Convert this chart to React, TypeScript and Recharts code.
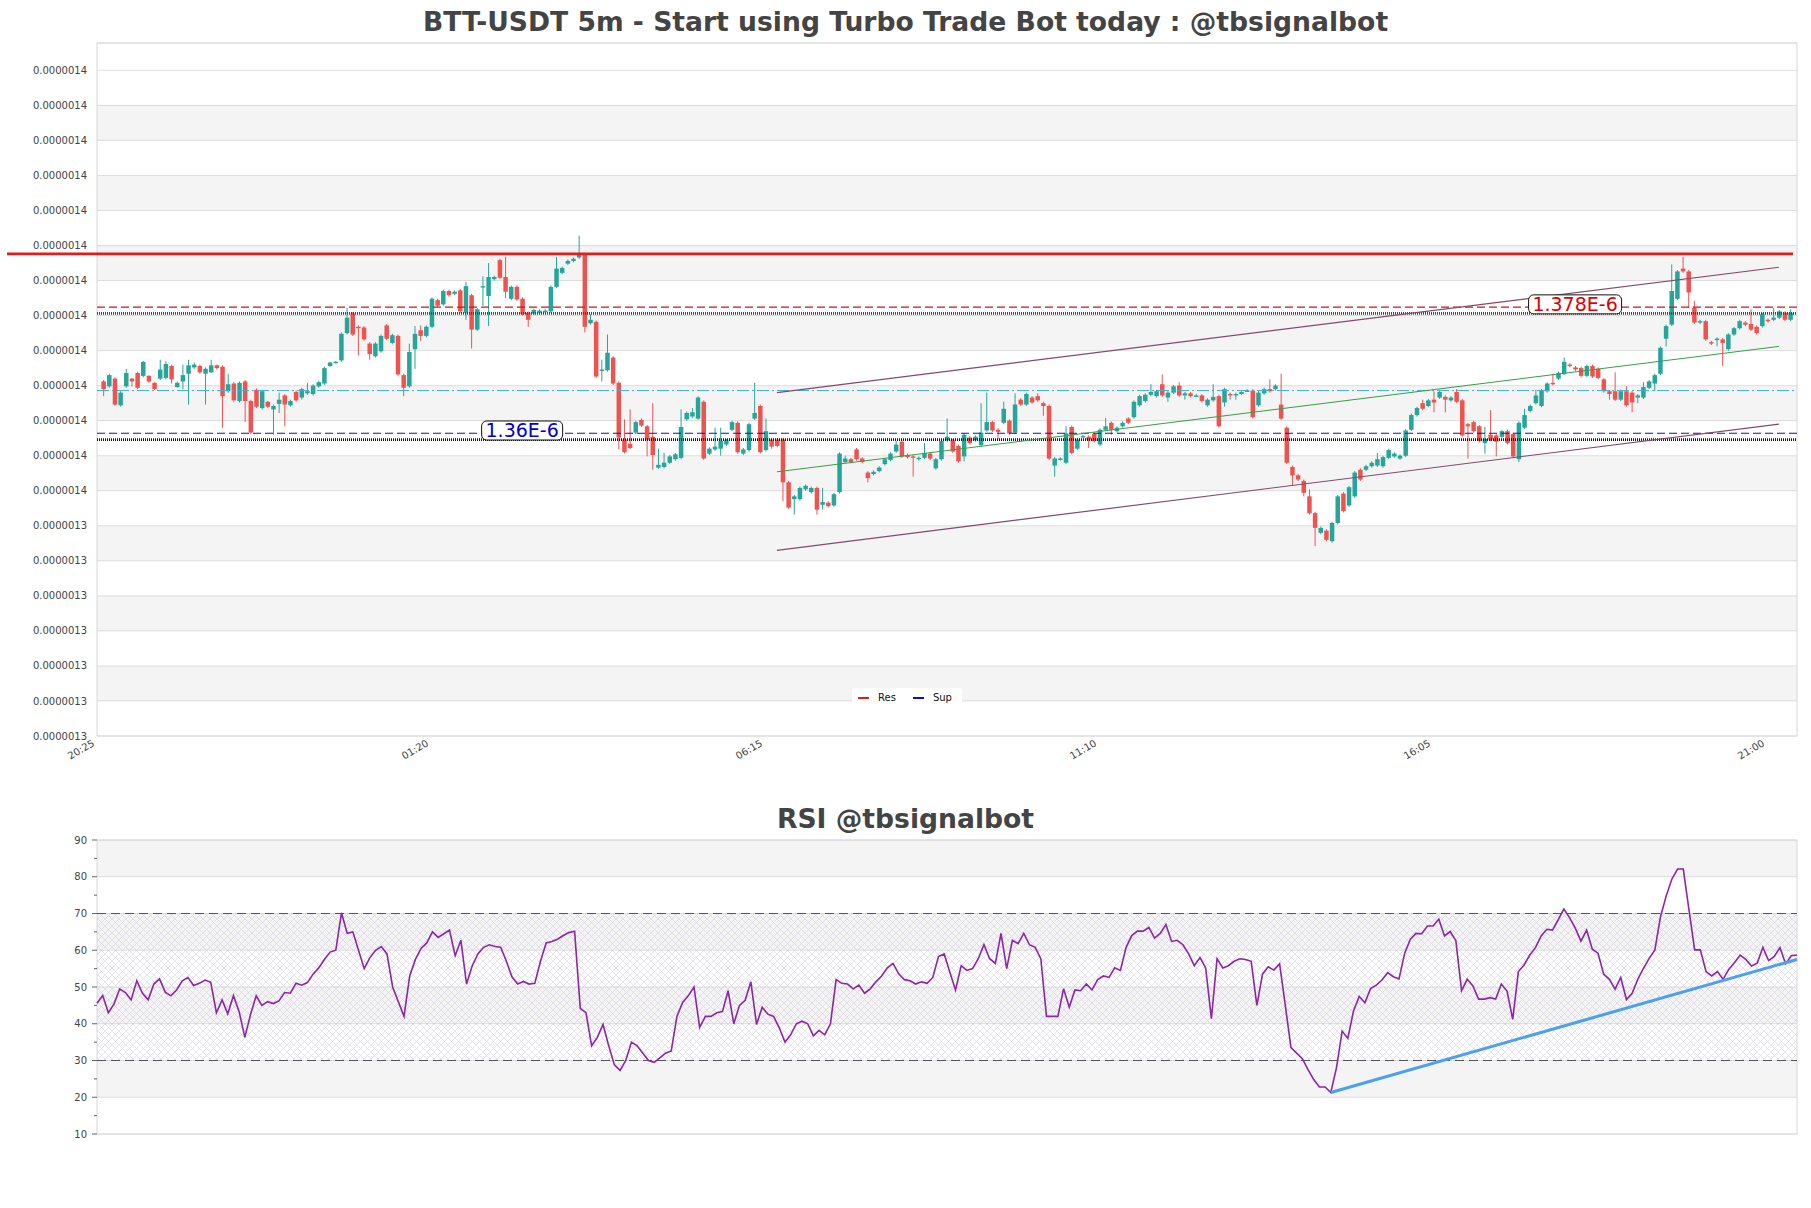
import React from 'react';
import {
  ComposedChart, LineChart, Bar, Line, XAxis, YAxis, CartesianGrid,
  ReferenceLine, ReferenceArea, ReferenceDot,
} from 'recharts';

// prices are kept in units of 1e-10 USDT (13780 -> 1.378E-6)
const opens = [
  13683, 13676, 13687, 13649, 13676, 13687, 13695, 13691, 13691, 13681, 13687, 13688, 13705, 13675, 13683, 13694, 13703, 13705, 13694, 13696,
  13706, 13704, 13669, 13680, 13655, 13683, 13655, 13671, 13645, 13654, 13643, 13651, 13663, 13649, 13668, 13660, 13666, 13665, 13676, 13680,
  13705, 13710, 13713, 13752, 13780, 13761, 13760, 13737, 13719, 13726, 13763, 13738, 13748, 13692, 13676, 13729, 13756, 13748, 13761, 13799,
  13793, 13812, 13808, 13813, 13781, 13806, 13757, 13817, 13805, 13829, 13856, 13832, 13801, 13818, 13801, 13781, 13780, 13781, 13783, 13783,
  13818, 13838, 13851, 13855, 13860, 13864, 13766, 13768, 13698, 13699, 13717, 13681, 13600, 13594, 13610, 13628, 13619, 13604, 13560, 13561,
  13567, 13572, 13574, 13629, 13633, 13630, 13654, 13580, 13586, 13587, 13593, 13614, 13624, 13580, 13585, 13630, 13648, 13585, 13600, 13600,
  13600, 13539, 13515, 13515, 13529, 13525, 13531, 13507, 13510, 13506, 13525, 13568, 13572, 13586, 13573, 13553, 13551, 13555, 13565, 13571,
  13583, 13597, 13578, 13576, 13572, 13574, 13580, 13559, 13572, 13599, 13599, 13591, 13576, 13603, 13599, 13592, 13613, 13625, 13614, 13624,
  13627, 13610, 13657, 13650, 13660, 13662, 13652, 13648, 13563, 13572, 13567, 13618, 13587, 13604, 13604, 13608, 13593, 13614, 13624, 13612,
  13619, 13630, 13632, 13649, 13655, 13664, 13662, 13679, 13660, 13667, 13677, 13663, 13666, 13662, 13663, 13649, 13656, 13662, 13653, 13665,
  13663, 13665, 13669, 13670, 13649, 13666, 13672, 13672, 13650, 13617, 13561, 13549, 13541, 13519, 13495, 13467, 13470, 13455, 13481, 13523,
  13506, 13519, 13557, 13557, 13562, 13563, 13562, 13574, 13576, 13573, 13577, 13614, 13635, 13652, 13648, 13657, 13660, 13661, 13656, 13668,
  13656, 13622, 13625, 13619, 13595, 13607, 13606, 13604, 13612, 13608, 13572, 13617, 13641, 13652, 13648, 13669, 13681, 13687, 13694, 13707,
  13703, 13702, 13691, 13705, 13701, 13686, 13669, 13669, 13657, 13669, 13667, 13660, 13660, 13674, 13680, 13694, 13744, 13764, 13801, 13844,
  13840, 13788, 13767, 13769, 13739, 13743, 13743, 13729, 13750, 13759, 13767, 13765, 13761, 13762, 13771, 13771, 13774, 13781, 13771,
];
const closes = [
  13672, 13692, 13650, 13667, 13695, 13683, 13674, 13711, 13683, 13672, 13700, 13708, 13686, 13681, 13692, 13706, 13707, 13696, 13701, 13706,
  13702, 13662, 13679, 13656, 13681, 13655, 13610, 13647, 13669, 13647, 13648, 13657, 13650, 13655, 13656, 13672, 13669, 13677, 13682, 13702,
  13710, 13711, 13751, 13774, 13750, 13759, 13743, 13722, 13737, 13748, 13744, 13749, 13693, 13674, 13725, 13751, 13748, 13761, 13801, 13791,
  13812, 13806, 13811, 13783, 13819, 13757, 13786, 13819, 13832, 13832, 13831, 13811, 13818, 13800, 13779, 13771, 13785, 13784, 13784, 13818,
  13844, 13845, 13855, 13858, 13864, 13761, 13771, 13690, 13700, 13724, 13680, 13603, 13582, 13588, 13625, 13620, 13600, 13578, 13564, 13567,
  13576, 13579, 13618, 13638, 13639, 13660, 13573, 13587, 13590, 13598, 13599, 13625, 13582, 13586, 13622, 13638, 13582, 13612, 13590, 13591,
  13539, 13503, 13519, 13531, 13534, 13531, 13500, 13511, 13505, 13522, 13580, 13573, 13568, 13572, 13568, 13545, 13554, 13560, 13572, 13580,
  13593, 13576, 13575, 13574, 13574, 13581, 13573, 13572, 13598, 13604, 13583, 13569, 13607, 13595, 13604, 13610, 13625, 13613, 13611, 13644,
  13609, 13650, 13650, 13665, 13653, 13656, 13648, 13573, 13573, 13573, 13609, 13581, 13600, 13605, 13600, 13598, 13614, 13619, 13614, 13617,
  13624, 13624, 13654, 13662, 13664, 13668, 13669, 13663, 13667, 13676, 13663, 13666, 13662, 13663, 13655, 13657, 13661, 13619, 13672, 13663,
  13665, 13668, 13670, 13632, 13667, 13672, 13669, 13677, 13630, 13567, 13549, 13543, 13524, 13495, 13474, 13474, 13457, 13481, 13519, 13498,
  13532, 13553, 13543, 13562, 13567, 13572, 13575, 13585, 13580, 13577, 13613, 13635, 13645, 13644, 13656, 13653, 13668, 13657, 13660, 13654,
  13606, 13619, 13612, 13598, 13601, 13600, 13597, 13612, 13595, 13576, 13624, 13635, 13648, 13663, 13670, 13680, 13679, 13695, 13711, 13705,
  13700, 13691, 13705, 13690, 13688, 13669, 13665, 13657, 13669, 13649, 13653, 13663, 13675, 13683, 13692, 13731, 13762, 13812, 13840, 13840,
  13810, 13767, 13769, 13743, 13737, 13744, 13738, 13750, 13759, 13769, 13764, 13757, 13752, 13779, 13769, 13774, 13783, 13771, 13781,
];
const highs = [
  13685, 13694, 13689, 13669, 13701, 13688, 13697, 13712, 13692, 13682, 13714, 13712, 13707, 13683, 13707, 13714, 13710, 13707, 13703, 13714,
  13707, 13706, 13694, 13682, 13683, 13685, 13657, 13673, 13671, 13655, 13650, 13667, 13665, 13657, 13670, 13674, 13681, 13679, 13684, 13704,
  13711, 13712, 13753, 13788, 13782, 13763, 13762, 13739, 13739, 13750, 13765, 13751, 13750, 13694, 13737, 13762, 13763, 13763, 13803, 13801,
  13814, 13814, 13813, 13815, 13825, 13808, 13788, 13833, 13852, 13834, 13858, 13861, 13820, 13820, 13803, 13783, 13787, 13786, 13786, 13820,
  13861, 13847, 13857, 13860, 13891, 13866, 13779, 13770, 13714, 13750, 13719, 13683, 13629, 13643, 13627, 13630, 13621, 13652, 13587, 13581,
  13578, 13581, 13643, 13640, 13645, 13662, 13656, 13589, 13617, 13617, 13601, 13627, 13626, 13588, 13624, 13681, 13650, 13630, 13602, 13602,
  13602, 13541, 13521, 13533, 13536, 13533, 13533, 13531, 13512, 13524, 13582, 13577, 13574, 13588, 13575, 13555, 13556, 13562, 13574, 13582,
  13598, 13599, 13580, 13578, 13576, 13595, 13582, 13574, 13600, 13630, 13601, 13593, 13609, 13605, 13606, 13652, 13667, 13627, 13616, 13654,
  13629, 13666, 13659, 13667, 13662, 13666, 13654, 13650, 13575, 13575, 13619, 13620, 13602, 13607, 13606, 13610, 13616, 13631, 13626, 13619,
  13626, 13632, 13656, 13664, 13666, 13679, 13671, 13693, 13669, 13678, 13682, 13668, 13668, 13665, 13665, 13659, 13679, 13664, 13674, 13667,
  13667, 13669, 13672, 13672, 13669, 13674, 13686, 13679, 13694, 13619, 13563, 13551, 13543, 13529, 13497, 13476, 13472, 13483, 13521, 13525,
  13534, 13555, 13559, 13564, 13569, 13581, 13577, 13587, 13582, 13579, 13615, 13637, 13647, 13657, 13658, 13669, 13670, 13663, 13662, 13672,
  13658, 13624, 13627, 13621, 13618, 13642, 13608, 13614, 13614, 13610, 13626, 13644, 13650, 13671, 13672, 13682, 13694, 13697, 13717, 13709,
  13705, 13704, 13707, 13707, 13703, 13688, 13671, 13696, 13671, 13676, 13669, 13665, 13682, 13685, 13694, 13733, 13764, 13850, 13842, 13861,
  13842, 13798, 13771, 13771, 13741, 13746, 13745, 13752, 13761, 13771, 13769, 13786, 13763, 13781, 13773, 13788, 13785, 13783, 13786,
];
const lows = [
  13662, 13674, 13648, 13647, 13674, 13676, 13672, 13689, 13681, 13671, 13685, 13686, 13680, 13674, 13672, 13650, 13701, 13694, 13650, 13695,
  13700, 13617, 13667, 13654, 13653, 13625, 13608, 13645, 13643, 13645, 13607, 13638, 13619, 13647, 13654, 13657, 13664, 13663, 13674, 13678,
  13704, 13709, 13711, 13750, 13748, 13720, 13741, 13714, 13717, 13724, 13742, 13736, 13691, 13662, 13674, 13701, 13741, 13746, 13759, 13789,
  13791, 13804, 13806, 13781, 13771, 13730, 13755, 13791, 13762, 13827, 13829, 13802, 13799, 13798, 13777, 13761, 13778, 13779, 13781, 13781,
  13816, 13836, 13849, 13853, 13858, 13753, 13764, 13688, 13683, 13697, 13678, 13586, 13580, 13586, 13608, 13618, 13576, 13557, 13558, 13559,
  13565, 13570, 13572, 13627, 13631, 13628, 13571, 13578, 13584, 13577, 13591, 13612, 13580, 13578, 13583, 13628, 13580, 13583, 13587, 13589,
  13512, 13501, 13493, 13513, 13527, 13523, 13493, 13500, 13503, 13504, 13523, 13566, 13566, 13570, 13566, 13539, 13549, 13553, 13563, 13569,
  13581, 13574, 13573, 13547, 13570, 13572, 13571, 13557, 13570, 13597, 13581, 13567, 13569, 13593, 13597, 13590, 13611, 13611, 13601, 13622,
  13607, 13608, 13648, 13648, 13651, 13654, 13634, 13571, 13547, 13570, 13565, 13579, 13585, 13603, 13588, 13596, 13591, 13612, 13607, 13610,
  13617, 13622, 13630, 13647, 13653, 13662, 13660, 13661, 13654, 13665, 13661, 13657, 13660, 13661, 13653, 13647, 13654, 13617, 13647, 13657,
  13657, 13664, 13668, 13630, 13647, 13664, 13667, 13670, 13628, 13565, 13534, 13541, 13519, 13493, 13448, 13465, 13455, 13453, 13479, 13496,
  13504, 13517, 13541, 13555, 13560, 13561, 13560, 13572, 13574, 13571, 13575, 13612, 13633, 13642, 13646, 13639, 13658, 13639, 13654, 13652,
  13604, 13573, 13610, 13596, 13580, 13598, 13576, 13602, 13593, 13574, 13568, 13615, 13639, 13650, 13646, 13667, 13677, 13685, 13692, 13703,
  13698, 13689, 13689, 13688, 13686, 13667, 13657, 13655, 13655, 13647, 13639, 13652, 13658, 13672, 13669, 13692, 13733, 13762, 13799, 13838,
  13788, 13765, 13765, 13741, 13735, 13733, 13705, 13727, 13748, 13757, 13762, 13755, 13750, 13760, 13767, 13769, 13772, 13769, 13769,
];

const rsiValues = [
  45.6, 47.7, 43.0, 45.4, 49.5, 48.5, 46.5, 51.7, 48.3, 46.5, 50.8, 52.2, 48.6, 47.6, 49.2, 51.7, 52.6, 50.4, 51.0, 51.9,
  51.3, 43.0, 46.5, 42.7, 47.7, 43.3, 36.3, 42.5, 47.6, 45.0, 46.0, 45.5, 46.2, 48.5, 48.3, 51.0, 50.5, 51.2, 53.5, 55.2,
  57.5, 59.5, 60.0, 70.2, 64.6, 65.0, 60.0, 55.0, 58.0, 60.0, 61.0, 59.0, 50.0, 46.0, 42.0, 53.0, 57.5, 60.5, 62.0, 65.0,
  63.5, 64.5, 65.5, 58.5, 62.7, 50.8, 55.8, 59.0, 60.8, 61.5, 61.0, 60.8, 57.0, 52.7, 50.8, 51.5, 50.8, 51.0, 57.0, 62.0,
  62.4, 63.0, 64.0, 64.8, 65.2, 44.2, 43.0, 34.0, 36.3, 39.8, 34.0, 28.8, 27.3, 30.0, 35.0, 34.0, 32.0, 30.0, 29.5, 30.7,
  32.0, 32.6, 42.0, 45.8, 47.6, 50.0, 39.0, 42.0, 42.0, 43.0, 43.3, 49.0, 40.0, 45.0, 46.4, 51.4, 39.8, 44.5, 42.6, 42.0,
  38.9, 35.0, 37.0, 40.0, 40.7, 40.0, 36.7, 38.2, 37.0, 40.0, 52.0, 51.0, 50.8, 49.5, 50.5, 48.3, 49.5, 51.4, 53.0, 55.2,
  56.4, 53.6, 52.0, 51.7, 50.8, 51.4, 51.0, 52.6, 58.3, 59.0, 54.0, 49.2, 55.8, 54.5, 55.0, 57.7, 61.5, 57.7, 56.4, 64.6,
  55.0, 62.7, 61.8, 64.6, 61.5, 60.8, 57.7, 42.0, 42.0, 42.0, 49.5, 44.5, 49.2, 49.0, 50.8, 49.2, 52.0, 53.0, 52.6, 55.2,
  54.5, 60.8, 64.0, 65.2, 65.2, 66.2, 63.3, 64.6, 67.0, 62.4, 62.7, 61.5, 59.0, 55.8, 58.0, 55.2, 41.4, 57.7, 55.2, 55.8,
  57.0, 57.7, 57.5, 57.0, 45.0, 53.5, 55.5, 54.6, 56.3, 45.0, 33.5, 32.0, 30.5, 27.5, 24.8, 22.8, 22.8, 21.3, 28.0, 38.0,
  36.0, 43.5, 47.4, 45.7, 49.6, 50.5, 51.9, 53.9, 52.8, 52.2, 59.2, 63.0, 64.6, 64.5, 66.6, 66.6, 68.5, 63.9, 65.1, 62.6,
  49.0, 52.1, 50.3, 46.7, 46.7, 47.1, 46.7, 50.8, 48.9, 41.2, 54.2, 56.0, 58.7, 60.7, 63.9, 65.7, 65.5, 68.3, 71.2, 68.9,
  66.0, 62.5, 65.5, 60.3, 59.2, 53.5, 52.1, 49.4, 52.6, 46.6, 48.3, 52.1, 55.1, 57.8, 60.1, 69.2, 74.8, 79.4, 82.1, 82.1,
  71.0, 60.1, 60.1, 54.2, 53.0, 54.2, 52.1, 54.8, 56.6, 58.7, 57.5, 55.7, 56.5, 60.8, 57.2, 58.3, 60.7, 56.3, 58.5, 58.7,
];

const timeLabels = ['20:25', '01:20', '06:15', '11:10', '16:05', '21:00'];
const timeTickIdx = [-1, 58, 117, 176, 235, 294];

const priceTicks = [
  13177, 13227, 13277, 13327, 13377, 13427, 13477, 13527, 13577, 13627,
  13677, 13727, 13777, 13827, 13877, 13927, 13977, 14027, 14077, 14127,
];
const rsiTicks = [10, 15, 20, 25, 30, 35, 40, 45, 50, 55, 60, 65, 70, 75, 80, 85, 90];

// support / resistance levels
const resMain = 13865;
const resDash = 13789;
const resDot = 13780;
const pivotLine = 13670;
const supDash = 13609;
const supDot = 13600;

// trend lines: [index, price] start and end
const upperChannel = [[119, 13667], [296, 13846]];
const lowerChannel = [[119, 13442], [296, 13622]];
const midChannel = [[119, 13554], [296, 13733]];
const blueTrend = [[271, 13639], [299, 13757]];
const rsiTrend = [[217, 21.3], [299, 57.5]];

const FONT = "'DejaVu Sans', 'Liberation Sans', sans-serif";
const GREEN = '#26a69a';
const RED = '#ef5350';
const PRICE_MIN = 13177;
const PRICE_MAX = 14166;

const at = (line: number[][], i: number) =>
  i === line[0][0] ? line[0][1] : i === line[1][0] ? line[1][1] : null;

const candleData = opens.map((o, i) => ({
  i, o, c: closes[i], h: highs[i], l: lows[i],
  upper: at(upperChannel, i),
  lower: at(lowerChannel, i),
  mid: at(midChannel, i),
  blue: at(blueTrend, i),
}));

const rsiData = rsiValues.map((v, i) => ({ i, rsi: v, trend: at(rsiTrend, i) }));

const bands: number[][] = [];
for (let k = 1; k < priceTicks.length - 1; k += 2) bands.push([priceTicks[k], priceTicks[k + 1]]);

const fmtPrice = (v: number) => (v * 1e-10).toFixed(7);

const Candle = (props: any) => {
  const { x, y, width, height, payload } = props;
  const { o, c, h, l } = payload;
  if (h === l || height == null) return null;
  const top = Math.min(y, y + height);
  const k = Math.abs(height) / (h - l);
  const yOf = (v: number) => top + (h - v) * k;
  const cx = x + width / 2;
  const color = c >= o ? GREEN : RED;
  const bTop = yOf(Math.max(o, c));
  const bBot = yOf(Math.min(o, c));
  return (
    <g>
      <line x1={cx} x2={cx} y1={top} y2={top + Math.abs(height)} stroke={color} strokeWidth={1} />
      <rect x={x} y={bTop} width={width} height={Math.max(bBot - bTop, 1.4)} fill={color} />
    </g>
  );
};

const TimeTick = (props: any) => {
  const { x, y, payload } = props;
  const k = timeTickIdx.indexOf(payload.value);
  return (
    <text transform={`translate(${x - 6},${y}) rotate(-30)`} textAnchor="end" dominantBaseline="hanging"
      fontSize={10} fill="#444" fontFamily={FONT}>{timeLabels[k]}</text>
  );
};

const RsiTick = (props: any) => {
  const { x, y, payload } = props;
  const v = payload.value;
  const major = v % 10 === 0;
  const axisX = x + 10;
  return (
    <g>
      <line x1={axisX - (major ? 5 : 3)} x2={axisX} y1={y} y2={y} stroke="#666" strokeWidth={1} />
      {major && (
        <text x={x} y={y} dy="0.35em" textAnchor="end" fontSize={10} fill="#444" fontFamily={FONT}>{v}</text>
      )}
    </g>
  );
};

const LevelTag = (props: any) => {
  const { cx, cy, text, color, w } = props;
  return (
    <g>
      <rect x={cx - w / 2} y={cy - 9.5} width={w} height={19} rx={5} ry={5} fill="#fff" stroke="#111" strokeWidth={1} />
      <text x={cx} y={cy} dy="0.36em" textAnchor="middle" fontSize={19} fill={color} fontFamily={FONT}>{text}</text>
    </g>
  );
};

const titleStyle: React.CSSProperties = {
  position: 'absolute', left: 0, width: 1811, textAlign: 'center', fontFamily: FONT,
  fontWeight: 'bold', fontSize: 26.6, color: '#444', lineHeight: '32px',
};

export default function App() {
  return (
    <div style={{ position: 'absolute', left: 0, top: 0, width: 1811, height: 1208, background: '#fff', fontFamily: FONT }}>
      <svg width={0} height={0} style={{ position: 'absolute' }}>
        <defs>
          <pattern id="rsiHatch" patternUnits="userSpaceOnUse" width={7} height={7}>
            <path d="M0,0 L7,7 M7,0 L0,7" stroke="#c2b6d2" strokeWidth={0.7} />
          </pattern>
        </defs>
      </svg>

      <div style={{ ...titleStyle, top: 6 }}>
        BTT-USDT 5m - Start using Turbo Trade Bot today : @tbsignalbot
      </div>

      <div style={{ position: 'absolute', left: 0, top: 0 }}>
        <ComposedChart width={1811} height={800} data={candleData} margin={{ top: 43, right: 14, bottom: 14, left: 0 }}>
          <XAxis dataKey="i" type="number" domain={[-1.1, 299.2]} allowDataOverflow ticks={timeTickIdx} interval={0}
            tickLine={false} axisLine={false} tickSize={0} tickMargin={3} height={50} tick={<TimeTick />} />
          <YAxis type="number" domain={[PRICE_MIN, PRICE_MAX]} allowDataOverflow ticks={priceTicks} interval={0}
            width={97} tickLine={false} axisLine={false} tickSize={8} tickMargin={2}
            tick={{ fontSize: 10, fill: '#444', fontFamily: FONT }} tickFormatter={fmtPrice} />
          {bands.map(([a, b]) => (
            <ReferenceArea key={a} y1={a} y2={b} fill="#000" fillOpacity={0.045} stroke="none" />
          ))}
          <CartesianGrid vertical={false} stroke="#e2e2e2" />
          <ReferenceArea y1={PRICE_MIN} y2={PRICE_MAX} fill="none" stroke="#d8d8d8" />

          <ReferenceLine y={pivotLine} stroke="#3fb0d8" strokeWidth={1} strokeDasharray="12 3 2 3" />
          <ReferenceLine y={resDash} stroke="#cc1818" strokeWidth={1.1} strokeDasharray="8 4" />
          <ReferenceLine y={resDot} stroke="#e00000" strokeWidth={2.8} strokeDasharray="1 1" />
          <ReferenceLine y={supDash} stroke="#14149a" strokeWidth={1.1} strokeDasharray="8 4" />
          <ReferenceLine y={supDot} stroke="#0000cc" strokeWidth={2.8} strokeDasharray="1 1" />

          <Bar dataKey={(d: any) => [d.l, d.h]} barSize={4.5} shape={Candle} isAnimationActive={false} />

          <Line dataKey="upper" type="linear" stroke="#844a68" strokeWidth={1.2} dot={false} activeDot={false} connectNulls isAnimationActive={false} />
          <Line dataKey="lower" type="linear" stroke="#844a68" strokeWidth={1.2} dot={false} activeDot={false} connectNulls isAnimationActive={false} />
          <Line dataKey="mid" type="linear" stroke="#35a045" strokeWidth={1} dot={false} activeDot={false} connectNulls isAnimationActive={false} />
          <Line dataKey="blue" type="linear" stroke="#4d9ff0" strokeWidth={3} dot={false} activeDot={false} connectNulls isAnimationActive={false} />

          <ReferenceLine y={resMain} stroke="#e41b1b" strokeWidth={2.7}
            shape={(p: any) => <line x1={7} y1={p.y1} x2={p.x2 - 4} y2={p.y2} stroke="#e41b1b" strokeWidth={2.7} />} />

          <ReferenceDot x={260} y={13793} r={1}
            shape={(p: any) => <LevelTag cx={p.cx} cy={p.cy} text="1.378E-6" color="#e00000" w={93} />} />
          <ReferenceDot x={74} y={13613} r={1}
            shape={(p: any) => <LevelTag cx={p.cx} cy={p.cy} text="1.36E-6" color="#0000d0" w={81} />} />
        </ComposedChart>
      </div>

      <div style={{
        position: 'absolute', left: 852, top: 688, width: 110, height: 19, background: '#fff', borderRadius: 3,
        display: 'flex', alignItems: 'center', fontSize: 10, color: '#111', fontFamily: FONT,
      }}>
        <span style={{ display: 'inline-block', width: 11, height: 2, background: '#e41b1b', marginLeft: 6, marginRight: 9 }} />
        <span>Res</span>
        <span style={{ display: 'inline-block', width: 11, height: 2, background: '#1010c0', marginLeft: 17, marginRight: 9 }} />
        <span>Sup</span>
      </div>

      <div style={{ ...titleStyle, top: 803 }}>RSI @tbsignalbot</div>

      <div style={{ position: 'absolute', left: 0, top: 800 }}>
        <LineChart width={1811} height={360} data={rsiData} margin={{ top: 40, right: 14, bottom: 26, left: 0 }}>
          <XAxis dataKey="i" type="number" domain={[0, rsiValues.length - 1]} hide />
          <YAxis type="number" domain={[10, 90]} ticks={rsiTicks} interval={0} width={97}
            tickLine={false} axisLine={false} tickSize={5} tickMargin={5} tick={<RsiTick />} />
          {[[80, 90], [60, 70], [40, 50], [20, 30]].map(([a, b]) => (
            <ReferenceArea key={a} y1={a} y2={b} fill="#000" fillOpacity={0.045} stroke="none" />
          ))}
          <CartesianGrid vertical={false} stroke="#e2e2e2" horizontalValues={[10, 20, 30, 40, 50, 60, 70, 80, 90]} />
          <ReferenceArea y1={30} y2={70} fill="url(#rsiHatch)" stroke="none" />
          <ReferenceArea y1={10} y2={90} fill="none" stroke="#d8d8d8" />
          <ReferenceLine y={70} stroke="#555" strokeWidth={1.2} strokeDasharray="9 5" />
          <ReferenceLine y={30} stroke="#555" strokeWidth={1.2} strokeDasharray="9 5" />
          <Line dataKey="rsi" type="linear" stroke="#8e24aa" strokeWidth={1.6} dot={false} activeDot={false} isAnimationActive={false} />
          <Line dataKey="trend" type="linear" stroke="#4d9ff0" strokeWidth={3} dot={false} activeDot={false} connectNulls isAnimationActive={false} />
        </LineChart>
      </div>
    </div>
  );
}
